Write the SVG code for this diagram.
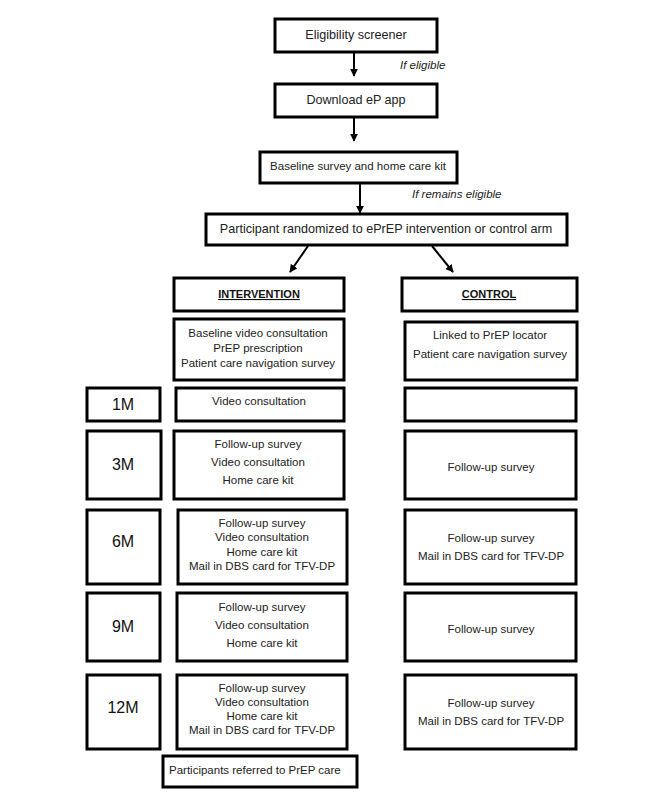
<svg xmlns="http://www.w3.org/2000/svg" width="666" height="799" viewBox="0 0 666 799">
<defs>
<marker id="ah" viewBox="0 0 10 10" refX="9" refY="5" markerWidth="4" markerHeight="4" orient="auto" markerUnits="strokeWidth">
<path d="M0,0 L10,5 L0,10 z" fill="#000"/>
</marker>
<style>
.box{fill:#fff;stroke:#000;stroke-width:3}
.t{font-family:"Liberation Sans",Arial,sans-serif;font-size:11.5px;fill:#222;text-anchor:middle}
.tl{font-family:"Liberation Sans",Arial,sans-serif;font-size:12.6px;fill:#222;text-anchor:middle}
.m{font-family:"Liberation Sans",Arial,sans-serif;font-size:16px;fill:#111;text-anchor:middle}
.h{font-family:"Liberation Sans",Arial,sans-serif;font-size:11px;font-weight:bold;fill:#111;text-anchor:middle;text-decoration:underline}
.i{font-family:"Liberation Sans",Arial,sans-serif;font-size:11.5px;font-style:italic;fill:#222}
.c{stroke:#000;stroke-width:2;fill:none;marker-end:url(#ah)}
</style>
</defs>
<rect width="666" height="799" fill="#fff"/>
<g id="connectors">
<line class="c" x1="354" y1="52" x2="354" y2="76"/>
<line class="c" x1="354" y1="117" x2="354" y2="141"/>
<line class="c" x1="360" y1="183" x2="360" y2="213"/>
<line class="c" x1="308" y1="246" x2="290" y2="272"/>
<line class="c" x1="432" y1="246" x2="453" y2="272"/>
</g>
<g id="label-eligible"><text class="i" x="400" y="69">If eligible</text></g>
<g id="label-remains"><text class="i" x="412" y="198">If remains eligible</text></g>
<g id="screener"><rect class="box" x="275" y="19" width="162" height="33"/><text class="tl" x="356" y="39">Eligibility screener</text></g>
<g id="download"><rect class="box" x="275" y="84" width="162" height="33"/><text class="tl" x="356" y="104">Download eP app</text></g>
<g id="baseline"><rect class="box" x="260" y="152" width="197" height="31"/><text class="t" x="358" y="170">Baseline survey and home care kit</text></g>
<g id="randomized"><rect class="box" x="206" y="214" width="361" height="31"/><text class="tl" x="386" y="233">Participant randomized to ePrEP intervention or control arm</text></g>
<g id="intervention"><rect class="box" x="174" y="278" width="170" height="33"/><text class="h" x="259" y="298">INTERVENTION</text></g>
<g id="control"><rect class="box" x="402" y="278" width="175" height="33"/><text class="h" x="489" y="298">CONTROL</text></g>
<g id="int-base"><rect class="box" x="174" y="319" width="170" height="61"/>
<text class="t" x="258" y="337">Baseline video consultation</text>
<text class="t" x="258" y="352">PrEP prescription</text>
<text class="t" x="258" y="367">Patient care navigation survey</text></g>
<g id="ctl-base"><rect class="box" x="405" y="322" width="172" height="58"/>
<text class="t" x="490" y="339">Linked to PrEP locator</text>
<text class="t" x="490" y="358">Patient care navigation survey</text></g>
<g id="m1"><rect class="box" x="87" y="388" width="73" height="33"/><text class="m" x="123" y="410">1M</text></g>
<g id="int-1m"><rect class="box" x="176" y="388" width="168" height="33"/><text class="t" x="259" y="405">Video consultation</text></g>
<g id="ctl-1m"><rect class="box" x="405" y="388" width="171" height="33"/></g>
<g id="m3"><rect class="box" x="87" y="431" width="74" height="68"/><text class="m" x="123" y="470">3M</text></g>
<g id="int-3m"><rect class="box" x="174" y="431" width="170" height="68"/>
<text class="t" x="258" y="448">Follow-up survey</text>
<text class="t" x="258" y="466">Video consultation</text>
<text class="t" x="258" y="484">Home care kit</text></g>
<g id="ctl-3m"><rect class="box" x="405" y="431" width="171" height="68"/><text class="t" x="491" y="471">Follow-up survey</text></g>
<g id="m6"><rect class="box" x="87" y="510" width="73" height="74"/><text class="m" x="123" y="547">6M</text></g>
<g id="int-6m"><rect class="box" x="178" y="510" width="169" height="74"/>
<text class="t" x="262" y="527">Follow-up survey</text>
<text class="t" x="262" y="541">Video consultation</text>
<text class="t" x="262" y="556">Home care kit</text>
<text class="t" x="262" y="570">Mail in DBS card for TFV-DP</text></g>
<g id="ctl-6m"><rect class="box" x="405" y="510" width="171" height="74"/>
<text class="t" x="491" y="542">Follow-up survey</text>
<text class="t" x="491" y="560">Mail in DBS card for TFV-DP</text></g>
<g id="m9"><rect class="box" x="87" y="593" width="73" height="68"/><text class="m" x="123" y="632">9M</text></g>
<g id="int-9m"><rect class="box" x="177" y="593" width="170" height="68"/>
<text class="t" x="262" y="611">Follow-up survey</text>
<text class="t" x="262" y="629">Video consultation</text>
<text class="t" x="262" y="647">Home care kit</text></g>
<g id="ctl-9m"><rect class="box" x="405" y="593" width="171" height="68"/><text class="t" x="491" y="633">Follow-up survey</text></g>
<g id="m12"><rect class="box" x="87" y="675" width="73" height="74"/><text class="m" x="123" y="713">12M</text></g>
<g id="int-12m"><rect class="box" x="177" y="675" width="170" height="74"/>
<text class="t" x="262" y="692">Follow-up survey</text>
<text class="t" x="262" y="706">Video consultation</text>
<text class="t" x="262" y="720">Home care kit</text>
<text class="t" x="262" y="734">Mail in DBS card for TFV-DP</text></g>
<g id="ctl-12m"><rect class="box" x="405" y="675" width="171" height="74"/>
<text class="t" x="491" y="707">Follow-up survey</text>
<text class="t" x="491" y="725">Mail in DBS card for TFV-DP</text></g>
<g id="referred"><rect class="box" x="163" y="756" width="194" height="31"/><text class="t" x="169" y="774" style="text-anchor:start">Participants referred to PrEP care</text></g>
</svg>
